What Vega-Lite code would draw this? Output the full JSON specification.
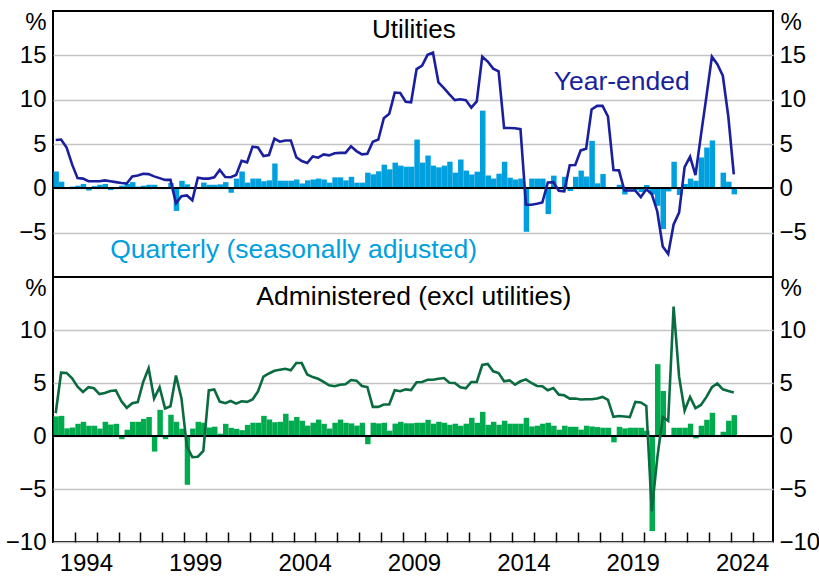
{
  "$schema": "https://vega.github.io/schema/vega-lite/v6.json",
  "padding": {"left": 4, "top": 9, "right": 0, "bottom": 0},
  "background": "white",
  "spacing": 0,
  "bounds": "flush",
  "config": {
    "font": "Liberation Sans",
    "view": {"stroke": "black", "strokeWidth": 2},
    "axis": {"labelFont": "Liberation Sans", "labelFontSize": 24, "labelColor": "black", "titleFont": "Liberation Sans", "titleFontSize": 24, "titleFontWeight": "normal", "titleColor": "black", "gridColor": "#c4c4c4", "gridWidth": 1.5, "ticks": false, "domain": false},
    "text": {"font": "Liberation Sans"}
  },
  "datasets": {
    "d": [
      {"d":"1993/01/01","uq":1.9,"uy":5.45,"aq":1.85,"ay":2.15},
      {"d":"1993/04/01","uq":0.75,"uy":5.5,"aq":1.9,"ay":5.97},
      {"d":"1993/07/01","uq":0.05,"uy":4.6,"aq":0.72,"ay":5.95},
      {"d":"1993/10/01","uq":0.2,"uy":2.7,"aq":0.8,"ay":5.45},
      {"d":"1994/01/01","uq":0.3,"uy":1.15,"aq":1.15,"ay":4.65},
      {"d":"1994/04/01","uq":0.5,"uy":1.1,"aq":1.34,"ay":4.16},
      {"d":"1994/07/01","uq":-0.25,"uy":0.8,"aq":0.97,"ay":4.6},
      {"d":"1994/10/01","uq":0.25,"uy":0.8,"aq":0.97,"ay":4.5},
      {"d":"1995/01/01","uq":0.4,"uy":0.8,"aq":0.7,"ay":3.95},
      {"d":"1995/04/01","uq":0.5,"uy":0.9,"aq":1.34,"ay":4.05},
      {"d":"1995/07/01","uq":-0.2,"uy":0.8,"aq":1.08,"ay":4.25},
      {"d":"1995/10/01","uq":0.15,"uy":0.7,"aq":1.15,"ay":4.3},
      {"d":"1996/01/01","uq":0.3,"uy":0.6,"aq":-0.3,"ay":3.3},
      {"d":"1996/04/01","uq":0.5,"uy":0.55,"aq":0.6,"ay":2.66},
      {"d":"1996/07/01","uq":0.7,"uy":1.35,"aq":1.34,"ay":3.1},
      {"d":"1996/10/01","uq":0.2,"uy":1.45,"aq":1.34,"ay":3.2},
      {"d":"1997/01/01","uq":0.3,"uy":1.65,"aq":1.62,"ay":5.1},
      {"d":"1997/04/01","uq":0.4,"uy":1.6,"aq":1.8,"ay":6.4},
      {"d":"1997/07/01","uq":0.4,"uy":1.35,"aq":-1.47,"ay":3.53},
      {"d":"1997/10/01","uq":0.05,"uy":1.15,"aq":2.47,"ay":4.6},
      {"d":"1998/01/01","uq":0.05,"uy":0.95,"aq":-0.3,"ay":2.6},
      {"d":"1998/04/01","uq":0.6,"uy":0.95,"aq":2.0,"ay":2.8},
      {"d":"1998/07/01","uq":-2.55,"uy":-1.7,"aq":1.34,"ay":5.7},
      {"d":"1998/10/01","uq":0.85,"uy":-0.9,"aq":0.69,"ay":3.55},
      {"d":"1999/01/01","uq":0.45,"uy":-0.8,"aq":-4.6,"ay":-1.0},
      {"d":"1999/04/01","uq":0.15,"uy":-1.35,"aq":0.7,"ay":-2.0},
      {"d":"1999/07/01","uq":0.1,"uy":1.2,"aq":1.34,"ay":-1.95},
      {"d":"1999/10/01","uq":0.65,"uy":1.1,"aq":1.25,"ay":-1.4},
      {"d":"2000/01/01","uq":0.4,"uy":1.1,"aq":0.8,"ay":4.3},
      {"d":"2000/04/01","uq":0.4,"uy":1.25,"aq":0.88,"ay":4.4},
      {"d":"2000/07/01","uq":0.45,"uy":2.07,"aq":0.22,"ay":3.25},
      {"d":"2000/10/01","uq":0.7,"uy":1.28,"aq":1.15,"ay":3.1},
      {"d":"2001/01/01","uq":-0.5,"uy":1.25,"aq":0.77,"ay":3.3},
      {"d":"2001/04/01","uq":1.1,"uy":1.5,"aq":0.68,"ay":3.05},
      {"d":"2001/07/01","uq":1.9,"uy":3.1,"aq":0.55,"ay":3.28},
      {"d":"2001/10/01","uq":0.65,"uy":2.93,"aq":1.05,"ay":3.22},
      {"d":"2002/01/01","uq":1.1,"uy":4.7,"aq":1.25,"ay":3.44},
      {"d":"2002/04/01","uq":1.1,"uy":4.6,"aq":1.25,"ay":4.2},
      {"d":"2002/07/01","uq":0.8,"uy":3.65,"aq":1.9,"ay":5.6},
      {"d":"2002/10/01","uq":0.9,"uy":3.76,"aq":1.56,"ay":5.9},
      {"d":"2003/01/01","uq":2.8,"uy":5.6,"aq":1.3,"ay":6.15},
      {"d":"2003/04/01","uq":0.86,"uy":5.26,"aq":1.34,"ay":6.25},
      {"d":"2003/07/01","uq":0.86,"uy":5.4,"aq":2.1,"ay":6.34},
      {"d":"2003/10/01","uq":0.86,"uy":5.4,"aq":1.45,"ay":6.2},
      {"d":"2004/01/01","uq":1.0,"uy":3.5,"aq":1.8,"ay":6.88},
      {"d":"2004/04/01","uq":0.55,"uy":3.08,"aq":1.44,"ay":6.88},
      {"d":"2004/07/01","uq":0.9,"uy":2.86,"aq":0.98,"ay":5.8},
      {"d":"2004/10/01","uq":1.0,"uy":3.6,"aq":1.25,"ay":5.56},
      {"d":"2005/01/01","uq":1.1,"uy":3.46,"aq":1.55,"ay":5.4},
      {"d":"2005/04/01","uq":1.0,"uy":3.83,"aq":1.15,"ay":5.1},
      {"d":"2005/07/01","uq":0.64,"uy":3.72,"aq":0.7,"ay":4.78},
      {"d":"2005/10/01","uq":1.24,"uy":3.95,"aq":1.25,"ay":4.69},
      {"d":"2006/01/01","uq":1.24,"uy":4.0,"aq":1.55,"ay":4.84},
      {"d":"2006/04/01","uq":0.9,"uy":4.0,"aq":1.25,"ay":4.88},
      {"d":"2006/07/01","uq":1.3,"uy":4.74,"aq":1.19,"ay":5.28},
      {"d":"2006/10/01","uq":0.64,"uy":4.2,"aq":0.98,"ay":5.22},
      {"d":"2007/01/01","uq":0.64,"uy":3.83,"aq":1.25,"ay":4.72},
      {"d":"2007/04/01","uq":1.77,"uy":3.9,"aq":-0.78,"ay":4.62},
      {"d":"2007/07/01","uq":1.58,"uy":5.26,"aq":1.25,"ay":2.75},
      {"d":"2007/10/01","uq":1.92,"uy":5.5,"aq":1.19,"ay":2.75},
      {"d":"2008/01/01","uq":2.67,"uy":7.9,"aq":1.25,"ay":2.97},
      {"d":"2008/04/01","uq":2.14,"uy":8.4,"aq":0.5,"ay":2.97},
      {"d":"2008/07/01","uq":2.9,"uy":10.8,"aq":1.17,"ay":4.31},
      {"d":"2008/10/01","uq":2.56,"uy":10.75,"aq":1.34,"ay":4.22},
      {"d":"2009/01/01","uq":2.44,"uy":9.77,"aq":1.2,"ay":4.4},
      {"d":"2009/04/01","uq":2.44,"uy":9.7,"aq":1.2,"ay":4.33},
      {"d":"2009/07/01","uq":5.5,"uy":13.45,"aq":1.25,"ay":5.08},
      {"d":"2009/10/01","uq":2.9,"uy":13.85,"aq":1.25,"ay":5.1},
      {"d":"2010/01/01","uq":3.7,"uy":15.05,"aq":1.53,"ay":5.3},
      {"d":"2010/04/01","uq":2.56,"uy":15.3,"aq":1.16,"ay":5.3},
      {"d":"2010/07/01","uq":2.37,"uy":11.95,"aq":1.34,"ay":5.4},
      {"d":"2010/10/01","uq":2.56,"uy":11.3,"aq":1.25,"ay":5.47},
      {"d":"2011/01/01","uq":3.0,"uy":10.6,"aq":1.06,"ay":5.03},
      {"d":"2011/04/01","uq":1.77,"uy":9.95,"aq":1.16,"ay":5.0},
      {"d":"2011/07/01","uq":3.25,"uy":10.05,"aq":0.97,"ay":4.6},
      {"d":"2011/10/01","uq":2.0,"uy":9.95,"aq":1.16,"ay":4.5},
      {"d":"2012/01/01","uq":1.56,"uy":9.1,"aq":1.72,"ay":5.1},
      {"d":"2012/04/01","uq":1.88,"uy":9.8,"aq":1.25,"ay":5.1},
      {"d":"2012/07/01","uq":8.76,"uy":14.85,"aq":2.28,"ay":6.7},
      {"d":"2012/10/01","uq":1.45,"uy":14.3,"aq":1.06,"ay":6.8},
      {"d":"2013/01/01","uq":1.1,"uy":13.5,"aq":1.34,"ay":6.1},
      {"d":"2013/04/01","uq":1.65,"uy":13.2,"aq":1.06,"ay":5.94},
      {"d":"2013/07/01","uq":3.0,"uy":6.8,"aq":1.44,"ay":5.16},
      {"d":"2013/10/01","uq":1.2,"uy":6.8,"aq":1.16,"ay":5.25},
      {"d":"2014/01/01","uq":1.0,"uy":6.77,"aq":1.16,"ay":4.84},
      {"d":"2014/04/01","uq":1.1,"uy":6.67,"aq":1.16,"ay":5.16},
      {"d":"2014/07/01","uq":-4.9,"uy":-1.85,"aq":1.72,"ay":5.34},
      {"d":"2014/10/01","uq":1.1,"uy":-1.85,"aq":0.9,"ay":5.0},
      {"d":"2015/01/01","uq":1.1,"uy":-1.75,"aq":0.97,"ay":4.72},
      {"d":"2015/04/01","uq":1.1,"uy":-1.6,"aq":1.16,"ay":4.69},
      {"d":"2015/07/01","uq":-2.9,"uy":0.66,"aq":1.25,"ay":4.31},
      {"d":"2015/10/01","uq":1.43,"uy":0.7,"aq":0.97,"ay":4.53},
      {"d":"2016/01/01","uq":0.1,"uy":-0.28,"aq":0.6,"ay":3.9},
      {"d":"2016/04/01","uq":1.3,"uy":-0.33,"aq":0.97,"ay":3.84},
      {"d":"2016/07/01","uq":-0.3,"uy":2.6,"aq":0.87,"ay":3.53},
      {"d":"2016/10/01","uq":1.3,"uy":2.63,"aq":0.87,"ay":3.53},
      {"d":"2017/01/01","uq":2.0,"uy":4.28,"aq":0.6,"ay":3.44},
      {"d":"2017/04/01","uq":1.33,"uy":4.47,"aq":0.97,"ay":3.47},
      {"d":"2017/07/01","uq":5.35,"uy":8.9,"aq":0.9,"ay":3.47},
      {"d":"2017/10/01","uq":0.56,"uy":9.3,"aq":0.84,"ay":3.53},
      {"d":"2018/01/01","uq":1.62,"uy":9.3,"aq":0.78,"ay":3.69},
      {"d":"2018/04/01","uq":0.08,"uy":8.1,"aq":0.78,"ay":3.4},
      {"d":"2018/07/01","uq":0.02,"uy":2.07,"aq":-0.6,"ay":1.81},
      {"d":"2018/10/01","uq":0.4,"uy":2.03,"aq":0.87,"ay":1.88},
      {"d":"2019/01/01","uq":-0.69,"uy":-0.25,"aq":0.72,"ay":1.84},
      {"d":"2019/04/01","uq":-0.1,"uy":-0.25,"aq":0.78,"ay":1.78},
      {"d":"2019/07/01","uq":-0.2,"uy":-0.25,"aq":0.78,"ay":3.22},
      {"d":"2019/10/01","uq":-0.42,"uy":-1.0,"aq":0.78,"ay":3.16},
      {"d":"2020/01/01","uq":0.38,"uy":-0.1,"aq":0.5,"ay":2.84},
      {"d":"2020/04/01","uq":-0.7,"uy":-0.65,"aq":-8.97,"ay":-7.1},
      {"d":"2020/07/01","uq":-1.97,"uy":-2.58,"aq":6.78,"ay":-2.1},
      {"d":"2020/10/01","uq":-4.6,"uy":-6.55,"aq":4.25,"ay":1.8},
      {"d":"2021/01/01","uq":-0.35,"uy":-7.4,"aq":0.02,"ay":1.44},
      {"d":"2021/04/01","uq":3.0,"uy":-4.08,"aq":0.78,"ay":12.2},
      {"d":"2021/07/01","uq":-0.75,"uy":-2.74,"aq":0.78,"ay":5.6},
      {"d":"2021/10/01","uq":0.5,"uy":2.4,"aq":0.78,"ay":2.4},
      {"d":"2022/01/01","uq":1.1,"uy":3.57,"aq":1.16,"ay":3.69},
      {"d":"2022/04/01","uq":0.86,"uy":1.5,"aq":-0.22,"ay":2.63},
      {"d":"2022/07/01","uq":3.48,"uy":6.0,"aq":0.97,"ay":2.93},
      {"d":"2022/10/01","uq":4.6,"uy":10.4,"aq":1.53,"ay":3.69},
      {"d":"2023/01/01","uq":5.4,"uy":14.85,"aq":2.19,"ay":4.6},
      {"d":"2023/04/01","uq":0.02,"uy":14.0,"aq":0.1,"ay":4.95},
      {"d":"2023/07/01","uq":1.77,"uy":12.7,"aq":0.4,"ay":4.4},
      {"d":"2023/10/01","uq":0.75,"uy":8.1,"aq":1.44,"ay":4.25},
      {"d":"2024/01/01","uq":-0.68,"uy":1.58,"aq":1.97,"ay":4.1}
    ]
  },
  "vconcat": [
    {
      "width": 720,
      "height": 266,
      "layer": [
        {
          "data": {"name": "d"},
          "mark": {"type": "bar", "color": "#00a0df", "binSpacing": 0},
          "encoding": {
            "x": {"field": "d", "type": "temporal", "timeUnit": "yearquarter", "scale": {"domain": [{"year": 1993, "month": 1, "date": 1}, {"year": 2025, "month": 12, "date": 1}]}, "axis": null},
            "y": {"field": "uq", "type": "quantitative", "scale": {"domain": [-10, 20], "nice": false, "zero": false}, "axis": {"orient": "left", "values": [-5, 0, 5, 10, 15], "grid": true, "labelPadding": 7, "title": "%", "titleAngle": 0, "titleAlign": "right", "titleBaseline": "middle", "titleX": -7, "titleY": 11}}
          }
        },
        {
          "data": {"name": "d"},
          "mark": {"type": "rule", "color": "black", "strokeWidth": 1.5},
          "encoding": {"y": {"datum": 0, "type": "quantitative", "axis": null}}
        },
        {
          "data": {"name": "d"},
          "mark": {"type": "line", "color": "#1a1f9e", "strokeWidth": 2.6},
          "encoding": {
            "x": {"field": "d", "type": "temporal", "timeUnit": "yearquarter", "bandPosition": 0.5, "axis": null},
            "y": {"field": "uy", "type": "quantitative", "axis": {"orient": "right", "values": [-5, 0, 5, 10, 15], "grid": false, "labelPadding": 6, "title": "%", "titleAngle": 0, "titleAlign": "left", "titleBaseline": "middle", "titleX": 7, "titleY": 11}}
          }
        },
        {
          "data": {"values": [{"label": "Utilities"}]},
          "mark": {"type": "text", "color": "black", "fontSize": 26, "align": "center", "baseline": "alphabetic"},
          "encoding": {"text": {"field": "label"}, "x": {"datum": {"year": 2009, "month": 7, "date": 1}, "type": "temporal", "axis": null}, "y": {"datum": 16.9, "type": "quantitative", "axis": null}}
        },
        {
          "data": {"values": [{"label": "Year-ended"}]},
          "mark": {"type": "text", "color": "#1a1f9e", "fontSize": 26.5, "align": "center", "baseline": "middle"},
          "encoding": {"text": {"field": "label"}, "x": {"datum": {"year": 2019, "month": 1, "date": 1}, "type": "temporal", "axis": null}, "y": {"datum": 12, "type": "quantitative", "axis": null}}
        },
        {
          "data": {"values": [{"label": "Quarterly (seasonally adjusted)"}]},
          "mark": {"type": "text", "color": "#00a0df", "fontSize": 26.5, "align": "center", "baseline": "middle"},
          "encoding": {"text": {"field": "label"}, "x": {"datum": {"year": 2004, "month": 1, "date": 1}, "type": "temporal", "axis": null}, "y": {"datum": -6.9, "type": "quantitative", "axis": null}}
        }
      ],
      "resolve": {"axis": {"y": "independent"}}
    },
    {
      "width": 720,
      "height": 265,
      "layer": [
        {
          "data": {"name": "d"},
          "mark": {"type": "bar", "color": "#00ab4e", "binSpacing": 0},
          "encoding": {
            "x": {"field": "d", "type": "temporal", "timeUnit": "yearquarter", "scale": {"domain": [{"year": 1993, "month": 1, "date": 1}, {"year": 2025, "month": 12, "date": 1}]},
              "axis": {"orient": "bottom", "values": [{"year":1994,"month":1,"date":1},{"year":1995,"month":1,"date":1},{"year":1996,"month":1,"date":1},{"year":1997,"month":1,"date":1},{"year":1998,"month":1,"date":1},{"year":1999,"month":1,"date":1},{"year":2000,"month":1,"date":1},{"year":2001,"month":1,"date":1},{"year":2002,"month":1,"date":1},{"year":2003,"month":1,"date":1},{"year":2004,"month":1,"date":1},{"year":2005,"month":1,"date":1},{"year":2006,"month":1,"date":1},{"year":2007,"month":1,"date":1},{"year":2008,"month":1,"date":1},{"year":2009,"month":1,"date":1},{"year":2010,"month":1,"date":1},{"year":2011,"month":1,"date":1},{"year":2012,"month":1,"date":1},{"year":2013,"month":1,"date":1},{"year":2014,"month":1,"date":1},{"year":2015,"month":1,"date":1},{"year":2016,"month":1,"date":1},{"year":2017,"month":1,"date":1},{"year":2018,"month":1,"date":1},{"year":2019,"month":1,"date":1},{"year":2020,"month":1,"date":1},{"year":2021,"month":1,"date":1},{"year":2022,"month":1,"date":1},{"year":2023,"month":1,"date":1},{"year":2024,"month":1,"date":1},{"year":2025,"month":1,"date":1}],
                "labels": false, "ticks": true, "tickSize": -10, "tickColor": "black", "tickWidth": 1.5, "grid": false, "title": null}},
            "y": {"field": "aq", "type": "quantitative", "scale": {"domain": [-10, 15], "nice": false, "zero": false}, "axis": {"orient": "left", "values": [-10, -5, 0, 5, 10], "grid": true, "labelPadding": 7, "title": "%", "titleAngle": 0, "titleAlign": "right", "titleBaseline": "middle", "titleX": -7, "titleY": 11}}
          }
        },
        {
          "data": {"name": "d"},
          "mark": {"type": "rule", "color": "black", "strokeWidth": 1.5},
          "encoding": {"y": {"datum": 0, "type": "quantitative", "axis": null}}
        },
        {
          "data": {"name": "d"},
          "mark": {"type": "line", "color": "#0b6b40", "strokeWidth": 2.6},
          "encoding": {
            "x": {"field": "d", "type": "temporal", "timeUnit": "yearquarter", "bandPosition": 0.5,
              "axis": {"orient": "bottom", "values": [{"year":1994,"month":1,"date":1},{"year":1999,"month":1,"date":1},{"year":2004,"month":1,"date":1},{"year":2009,"month":1,"date":1},{"year":2014,"month":1,"date":1},{"year":2019,"month":1,"date":1},{"year":2024,"month":1,"date":1}],
                "format": "%Y", "ticks": false, "labelOffset": 11, "labelPadding": 9, "labelBaseline": "top", "labelAlign": "center", "labelFlush": false, "labelOverlap": false, "grid": false, "title": null}},
            "y": {"field": "ay", "type": "quantitative", "axis": {"orient": "right", "values": [-10, -5, 0, 5, 10], "grid": false, "labelPadding": 6, "title": "%", "titleAngle": 0, "titleAlign": "left", "titleBaseline": "middle", "titleX": 7, "titleY": 11}}
          }
        },
        {
          "data": {"values": [{"label": "Administered (excl utilities)"}]},
          "mark": {"type": "text", "color": "black", "fontSize": 26.5, "align": "center", "baseline": "alphabetic"},
          "encoding": {"text": {"field": "label"}, "x": {"datum": {"year": 2009, "month": 7, "date": 1}, "type": "temporal", "axis": null}, "y": {"datum": 12.4, "type": "quantitative", "axis": null}}
        }
      ],
      "resolve": {"axis": {"y": "independent", "x": "independent"}}
    }
  ]
}
